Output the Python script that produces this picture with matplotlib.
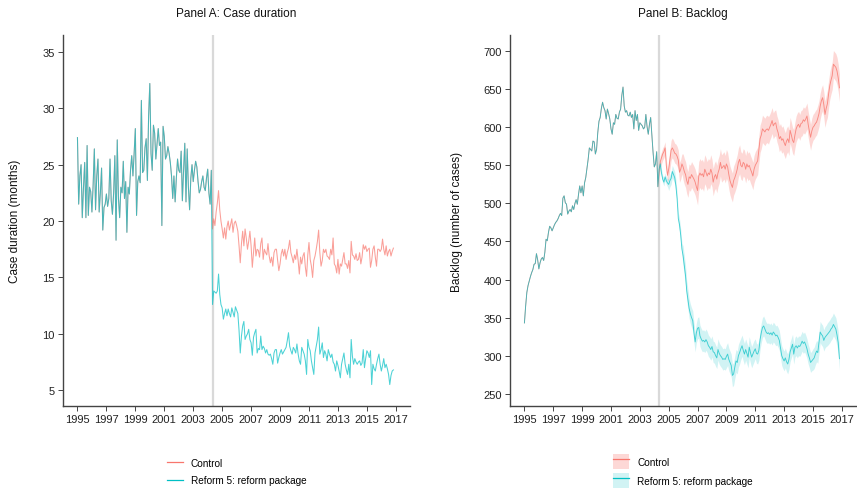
import matplotlib.pyplot as plt
import numpy as np
from matplotlib.lines import Line2D
from matplotlib.patches import Patch

plt.rcParams['font.family'] = ['Liberation Sans', 'DejaVu Sans']

RED = '#F8766D'
CYAN = '#00BFC4'

# monthly values from Jan 1995, reform starts May 2004 (month 112)
duration_pre = [
    27.4, 21.5, 24.0, 25.0, 20.3, 23.0, 25.2, 20.3, 26.7, 20.5, 23.0, 22.6,
    20.8, 23.2, 26.4, 21.0, 24.0, 25.5, 20.8, 22.5, 24.7, 19.2, 21.2, 21.5,
    22.4, 21.3, 22.0, 25.5, 21.8, 20.6, 22.5, 25.8, 18.3, 27.2, 22.0, 20.3,
    23.0, 22.5, 25.3, 22.0, 23.5, 19.0, 23.0, 22.4, 24.5, 25.8, 24.0, 26.0,
    28.2, 20.5, 23.5, 24.0, 23.4, 30.7, 24.3, 24.5, 26.5, 27.3, 23.6, 29.3,
    32.2, 26.0, 24.5, 28.5, 27.8, 25.5, 26.8, 28.2, 26.7, 27.0, 19.6, 28.4,
    27.5, 25.5, 25.8, 26.6, 26.0, 25.2, 24.0, 22.0, 24.0, 21.7, 23.8, 25.5,
    24.5, 24.3, 26.2, 21.8, 24.5, 26.9, 21.7, 26.4, 23.0, 21.0, 23.8, 25.0,
    23.5, 24.5, 25.3, 24.8, 23.5, 22.5, 22.8, 23.5, 24.0, 23.0, 22.7, 23.8,
    24.6, 22.5, 21.5, 24.5,
]
duration_control = [
    19.3, 20.2, 19.6, 20.8, 21.6, 22.7, 21.0, 20.0, 19.3, 18.5, 19.4, 18.4,
    19.5, 20.0, 19.2, 19.7, 20.2, 19.0, 19.8, 20.0, 19.6, 19.1, 17.8, 16.3,
    18.0, 19.1, 17.8, 19.3, 18.5, 17.5, 18.2, 19.1, 17.8, 15.9, 17.2, 18.5,
    16.9, 17.5, 17.4, 16.8, 18.0, 18.5, 16.6, 17.5, 17.2, 17.0, 18.0, 16.9,
    16.3, 16.8, 16.0, 17.2, 17.5, 17.5, 16.5, 15.6, 16.2, 17.1, 17.5, 16.9,
    17.5, 16.6, 17.2, 17.6, 18.3, 17.2, 16.8, 16.3, 17.0, 16.6, 17.5, 16.5,
    15.3, 16.8, 16.2, 16.9, 17.2, 15.9, 15.1, 17.0, 18.1, 16.6, 16.0, 15.0,
    16.5, 16.9, 17.5, 18.2, 19.2, 17.2, 16.0, 16.5, 17.5, 17.2, 17.5, 16.9,
    16.8, 16.6, 17.5, 17.0, 18.5, 16.2, 16.0, 15.4, 16.6, 15.3, 16.2, 16.0,
    16.6, 17.2, 16.2, 16.2, 15.8, 16.5, 15.4, 18.2, 17.0, 16.9, 16.6, 17.1,
    16.5, 16.6, 17.2, 16.2, 16.8, 17.9, 17.5, 17.8, 17.3, 17.5, 17.6, 15.9,
    16.5, 17.5, 17.8, 16.8, 16.0, 17.5, 17.5, 17.3, 17.5, 18.4, 17.5, 17.0,
    17.8, 16.9, 17.3, 17.5, 16.9, 17.3, 17.6,
]
duration_reform = [
    12.6, 13.8, 13.7, 13.6, 13.8, 15.3, 13.5, 12.6, 12.3, 11.3, 11.8, 12.2,
    11.6, 12.2, 11.8, 11.5, 12.3, 11.9, 11.5, 12.4, 12.1, 11.8, 10.3, 8.3,
    9.8, 10.7, 11.1, 9.5, 9.8, 10.0, 10.4, 9.5, 9.2, 8.1, 9.7, 10.1,
    10.4, 8.3, 8.7, 8.6, 9.8, 8.6, 8.9, 8.7, 8.3, 8.6, 8.2, 8.1,
    8.2, 7.8, 7.3, 8.3, 8.6, 8.6, 7.4, 7.9, 8.3, 8.6, 8.2, 8.4,
    8.6, 8.8, 9.4, 10.1, 8.9, 8.5, 8.2, 8.8, 8.6, 8.3, 9.1, 8.2,
    7.6, 7.3, 8.8, 8.5, 8.2, 7.6, 6.4, 9.5, 8.8, 8.5, 7.6, 7.0,
    6.4, 8.3, 8.9, 9.5, 10.6, 8.2, 8.6, 9.2, 7.9, 8.5, 8.2, 7.6,
    8.6, 8.2, 7.9, 8.2, 7.5, 7.3, 6.7, 7.6, 7.2, 6.7, 6.1, 7.3,
    7.8, 8.3, 7.3, 6.8, 6.4, 7.3, 6.1, 9.5, 8.0, 7.3, 7.8, 7.5,
    7.3, 7.5, 7.6, 7.2, 7.4, 8.6, 7.0, 7.8, 8.5, 8.3, 7.9, 8.5,
    5.5, 7.3, 6.9, 6.7, 7.3, 7.8, 8.2, 7.3, 6.7, 7.2, 7.8, 7.0,
    7.3, 6.9, 6.4, 5.5, 6.3, 6.7, 6.8,
]

backlog_pre = [
    343, 365, 383, 392, 398, 404, 409, 413, 420, 421, 434, 426,
    414, 422, 427, 429, 425, 436, 453, 451, 462, 470, 468, 464,
    468, 472, 475, 477, 480, 484, 487, 484, 507, 510, 501, 499,
    486, 490, 492, 489, 497, 492, 500, 505, 499, 512, 523, 514,
    523, 510, 527, 534, 546, 558, 573, 571, 569, 582, 581, 565,
    571, 593, 608, 613, 625, 633, 626, 622, 611, 624, 618, 611,
    598, 591, 606, 604, 617, 612, 611, 620, 624, 642, 653, 628,
    620, 622, 616, 615, 620, 613, 617, 598, 622, 609, 617, 596,
    606, 604, 602, 598, 600, 617, 601, 591, 604, 613, 589, 567,
    548, 552, 568, 522,
]
backlog_control = [
    540, 555, 560, 565, 568, 573, 550, 537, 545, 558, 570, 573,
    570, 566, 565, 562, 557, 541, 545, 552, 548, 542, 538, 530,
    525, 535, 533, 538, 535, 532, 528, 522, 517, 536, 540, 537,
    539, 535, 545, 541, 536, 540, 538, 545, 540, 528, 535, 538,
    532, 540, 545, 554, 546, 548, 550, 545, 552, 548, 538, 530,
    525, 521, 530, 534, 539, 545, 554, 558, 550, 548, 554, 552,
    545, 552, 548, 550, 545, 541, 536, 545, 550, 553, 556, 571,
    585, 590, 598, 596, 594, 597, 598, 596, 600, 604, 609, 602,
    605, 606, 598, 593, 585, 588, 583, 585, 580, 576, 582, 585,
    580, 596, 590, 583, 580, 590, 598, 602, 604, 600, 605, 606,
    610, 608, 611, 615, 604, 595, 587, 595, 600, 602, 605, 607,
    612, 618, 628, 635, 639, 630, 617, 625, 631, 644, 655, 662,
    668, 683, 681, 679, 674, 665, 652,
]
backlog_reform = [
    545, 552, 540, 532, 528, 535, 530, 527, 525, 530, 533, 542,
    538, 534, 523, 506, 480, 472, 458, 440, 431, 418, 405, 385,
    374, 362, 355, 350, 346, 330, 318, 330, 336, 337, 326, 322,
    319, 320, 318, 321, 318, 313, 311, 308, 312, 305, 304, 300,
    297, 308, 303, 300, 298, 295, 296, 295, 299, 302, 295, 291,
    287, 274, 276, 285, 293, 291, 300, 304, 309, 313, 307, 302,
    308, 303, 298, 311, 304, 298, 302, 306, 309, 303, 302, 307,
    321, 330, 337, 339, 335, 331, 329, 330, 328, 330, 327, 331,
    329, 326, 327, 324, 320, 310, 300, 296, 293, 297, 292, 289,
    295, 305, 310, 315, 302, 311, 313, 310, 313, 312, 315, 319,
    316, 318, 314, 309, 302, 297, 291, 293, 295, 297, 302, 306,
    304, 317, 331, 328, 326, 320, 324, 326, 328, 330, 332, 335,
    337, 341, 338, 335, 327, 317, 296,
]
# half-width of the confidence band in panel B, one value per year 2004-2016
band_years = [2004, 2005, 2006, 2007, 2008, 2009, 2010, 2011, 2012, 2013, 2014, 2015, 2016]
band_control = [8, 13, 17, 19, 18, 19, 18, 18, 17, 17, 17, 17, 18]
band_reform = [5, 8, 13, 14, 14, 15, 14, 13, 13, 13, 13, 14, 15]

year_ticks = list(range(1995, 2018, 2))
reform_start = 1995 + len(duration_pre) / 12

fig = plt.figure(figsize=(8.57, 4.89), dpi=100)
ax1 = fig.add_axes([0.0735, 0.1677, 0.4049, 0.7587])
ax2 = fig.add_axes([0.5951, 0.1677, 0.4037, 0.7587])


def month_years(n, start=0):
    return 1995 + (start + np.arange(n)) / 12


def style(ax, title, ylabel, yticks, ylim):
    for s in ['top', 'right']:
        ax.spines[s].set_visible(False)
    for s in ['left', 'bottom']:
        ax.spines[s].set_color('#444444')
        ax.spines[s].set_linewidth(1.0)
    ax.set_xlim(1994.0, 2017.98)
    ax.set_ylim(*ylim)
    ax.set_xticks(year_ticks)
    ax.set_yticks(yticks)
    ax.tick_params(axis='both', labelsize=8, length=3.5, width=0.7,
                   color='#444444', labelcolor='#222222', pad=2.5)
    ax.set_title(title, fontsize=8.5, pad=14, color='#111111')
    ax.set_ylabel(ylabel, fontsize=8.5, color='#111111')
    ax.axvline(reform_start, color='#d9d9d9', lw=1.6, zorder=0)


# Panel A
n_pre = len(duration_pre)
ctrl_a = duration_pre + duration_control
ref_a = duration_pre + duration_reform
ax1.plot(month_years(len(ctrl_a)), ctrl_a, color=RED, lw=0.75, alpha=0.7)
ax1.plot(month_years(len(ref_a)), ref_a, color=CYAN, lw=0.75, alpha=0.7)
style(ax1, 'Panel A: Case duration', 'Case duration (months)',
      [5, 10, 15, 20, 25, 30, 35], (3.6, 36.5))
ax1.yaxis.set_label_coords(-0.121, 0.5)
ax1.legend(handles=[Line2D([], [], color=RED, lw=0.9),
                    Line2D([], [], color=CYAN, lw=0.9)],
           labels=['Control', 'Reform 5: reform package'],
           loc='upper center', bbox_to_anchor=(0.5, -0.115), frameon=False,
           fontsize=7.2, handlelength=1.6, labelspacing=0.75)

# Panel B
post_years = 1995 + (n_pre + np.arange(len(backlog_control))) // 12
idx = np.searchsorted(band_years, post_years)
x_post = month_years(len(backlog_control), n_pre)
for vals, band, col, a in [(backlog_control, band_control, RED, 0.28),
                           (backlog_reform, band_reform, CYAN, 0.18)]:
    hw = np.array(band)[idx]
    v = np.array(vals)
    ax2.fill_between(x_post, v - hw, v + hw, color=col, alpha=a, lw=0)
ctrl_b = backlog_pre + backlog_control
ref_b = backlog_pre + backlog_reform
ax2.plot(month_years(len(ctrl_b)), ctrl_b, color=RED, lw=0.65, alpha=0.8)
ax2.plot(month_years(len(ref_b)), ref_b, color=CYAN, lw=0.65, alpha=0.7)
style(ax2, 'Panel B: Backlog', 'Backlog (number of cases)',
      list(range(250, 701, 50)), (233.8, 721.4))
ax2.yaxis.set_label_coords(-0.135, 0.5)
h_ctrl = (Patch(color=RED, alpha=0.28, lw=0), Line2D([], [], color=RED, lw=0.9))
h_ref = (Patch(color=CYAN, alpha=0.18, lw=0), Line2D([], [], color=CYAN, lw=0.9))
ax2.legend(handles=[h_ctrl, h_ref], labels=['Control', 'Reform 5: reform package'],
           loc='upper center', bbox_to_anchor=(0.5, -0.105), frameon=False,
           fontsize=7.2, handlelength=1.6, handleheight=2.0, labelspacing=0.35)

fig.savefig('out.png', dpi=100)
